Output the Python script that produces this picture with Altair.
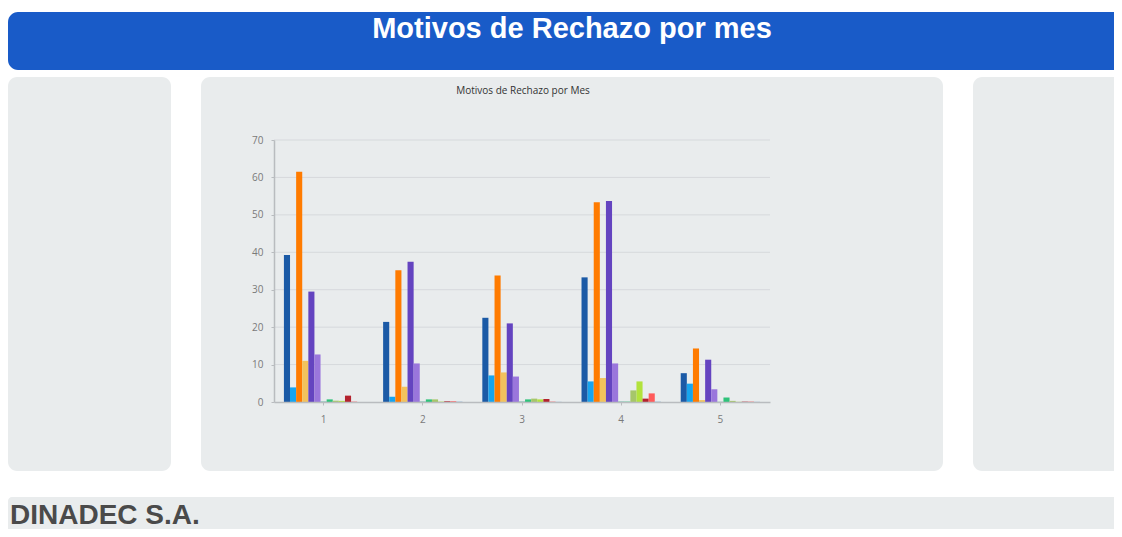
import altair as alt
import pandas as pd

# ---- data ----
meses = ["1", "2", "3", "4", "5"]
motivos = [f"Motivo {i}" for i in range(1, 14)]
colores = ["#1b5aa6", "#17a4ee", "#ff7b00", "#f2c25c", "#6444c0", "#9a76dc",
           "#3aa08a", "#2fc27a", "#a6c66a", "#b2e23c", "#b3222e", "#ff5b5b", "#8ab0d4"]

mes_1 = [39.3, 3.9, 61.5, 11.0, 29.5, 12.7, 0.1, 0.7, 0.35, 0.3, 1.7, 0.1, 0.0]
mes_2 = [21.4, 1.4, 35.2, 4.1, 37.5, 10.3, 0.1, 0.7, 0.7, 0.1, 0.2, 0.2, 0.1]
mes_3 = [22.5, 7.1, 33.8, 7.9, 21.0, 6.8, 0.1, 0.7, 0.9, 0.7, 0.8, 0.1, 0.05]
mes_4 = [33.3, 5.5, 53.4, 6.4, 53.7, 10.3, 0.1, 0.1, 3.1, 5.5, 0.9, 2.3, 0.1]
mes_5 = [7.7, 4.9, 14.3, 0.5, 11.3, 3.4, 0.05, 1.2, 0.3, 0.05, 0.1, 0.1, 0.05]

y_ticks = [0, 10, 20, 30, 40, 50, 60, 70]

rows = []
for mes, vals in zip(meses, [mes_1, mes_2, mes_3, mes_4, mes_5]):
    for m, v in zip(motivos, vals):
        rows.append({"Mes": mes, "Motivo": m, "Valor": v})
df = pd.DataFrame(rows)

W, H = 496, 262
panel = "#e9eced"

one = pd.DataFrame({"k": [0]})

def box(x, x2, y, y2, color, r):
    return alt.Chart(one).mark_rect(color=color, cornerRadius=r).encode(
        x=alt.value(x), x2=alt.value(x2), y=alt.value(y), y2=alt.value(y2))

def label(txt, x, y, size, color, weight="normal", align="center", baseline="middle", font="Liberation Sans"):
    return alt.Chart(pd.DataFrame({"t": [txt]})).mark_text(
        fontSize=size, color=color, fontWeight=weight, align=align, baseline=baseline, font=font
    ).encode(text="t:N", x=alt.value(x), y=alt.value(y))

banner = box(-266, 860, -128, -70, "#195bc8", 10)
p_left = box(-266, -103, -63, 331, panel, 9)
p_mid = box(-73, 669, -63, 331, panel, 9)
p_right = box(699, 870, -63, 331, panel, 9)
footer = box(-266, 870, 357, 410, panel, 4)

yscale = alt.Scale(domain=[0, 70], nice=False)
y_axis = alt.Axis(values=y_ticks, grid=False, labelColor="#7a7a7a", labelFontSize=10,
                  labelFont="Open Sans", tickColor="#b9bcbf", tickSize=3,
                  domainColor="#b9bcbf", domainWidth=1.5, labelPadding=8, zindex=1)

grid = alt.Chart(pd.DataFrame({"Valor": y_ticks[1:]})).mark_rule(color="#d6d9dc", strokeWidth=1).encode(
    y=alt.Y("Valor:Q", scale=yscale, axis=y_axis, title=None), x=alt.value(0), x2=alt.value(W))

bars = alt.Chart(df).mark_bar().encode(
    x=alt.X("Mes:N", sort=meses, title=None,
            scale=alt.Scale(paddingInner=0.2, paddingOuter=0.1),
            axis=alt.Axis(labelAngle=0, labelColor="#7a7a7a", labelFontSize=10, labelFont="Open Sans",
                          tickColor="#b9bcbf", tickSize=3, domainColor="#b9bcbf", domainWidth=1.5,
                          labelPadding=9, zindex=1)),
    xOffset=alt.XOffset("Motivo:N", sort=motivos),
    y=alt.Y("Valor:Q", scale=yscale, title=None, axis=y_axis),
    color=alt.Color("Motivo:N", scale=alt.Scale(domain=motivos, range=colores), legend=None),
)

t_banner = label("Motivos de Rechazo por mes", 298, -102, 29, "white", weight="bold", baseline="alphabetic")
t_chart = label("Motivos de Rechazo por Mes", 249, -49, 10, "#333333", font="Open Sans")
t_footer = label("DINADEC S.A.", -264, 384, 28, "#4a4a4a", weight="bold", align="left", baseline="alphabetic")

chart = alt.layer(
    banner, p_left, p_mid, p_right, footer, grid, bars, t_banner, t_chart, t_footer
).properties(
    width=W, height=H,
    autosize=alt.AutoSizeParams(type="none"),
    padding={"left": 266, "top": 132, "right": 344, "bottom": 127},
    background="white",
).configure_view(stroke=None)

chart.save("out.html", embed_options={"renderer": "svg", "actions": False})
